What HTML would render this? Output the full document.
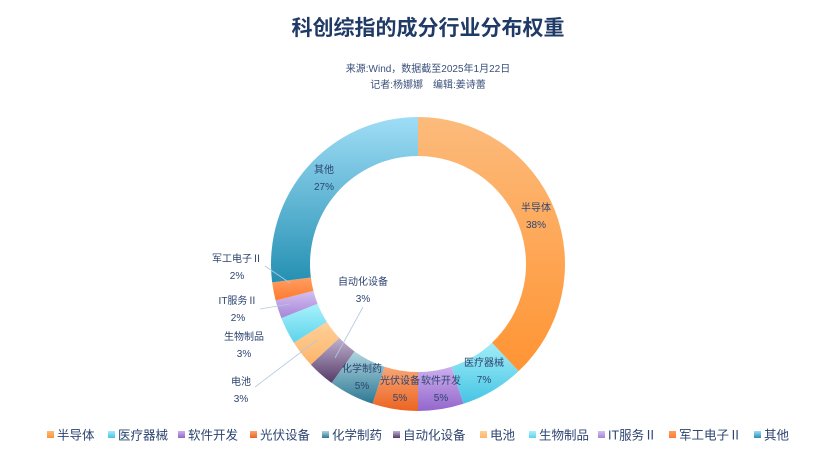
<!DOCTYPE html>
<html><head><meta charset="utf-8"><style>
body{margin:0;background:#fff;}
svg{display:block;font-family:"Liberation Sans","Noto Sans CJK SC",sans-serif;}
</style></head><body>
<svg id="s" width="832" height="464" viewBox="0 0 832 464">
<defs id="d"></defs>
<text x="428" y="35" text-anchor="middle" font-size="21" font-weight="bold" fill="#1F3A66">科创综指的成分行业分布权重</text>
<text x="428" y="72" text-anchor="middle" font-size="10" fill="#3A4F7A">来源:Wind，数据截至2025年1月22日</text>
<text x="428" y="88" text-anchor="middle" font-size="10" fill="#3A4F7A">记者:杨娜娜　编辑:姜诗蕾</text>
<g id="g"></g>
</svg>
<script>
var cx=418,cy=264,R=147,r=108;
var data=[
["半导体",38,"#FCBB7C","#FF9433"],
["医疗器械",7,"#A2EEF8","#45C4E4"],
["软件开发",5,"#CDB0EE","#9366CC"],
["光伏设备",5,"#F8A677","#EC6420"],
["化学制药",5,"#B0D5E0","#2D7893"],
["自动化设备",3,"#C0B2CF","#553A68"],
["电池",3,"#FFD09A","#FDB56A"],
["生物制品",3,"#A8F2FC","#5DD3EA"],
["IT服务Ⅱ",2,"#D4BFF2","#A585D6"],
["军工电子Ⅱ",2,"#FF9E62","#FF7A2E"],
["其他",27,"#9FDDF6","#2590B3"]];
var ns="http://www.w3.org/2000/svg",d=document.getElementById('d'),g=document.getElementById('g');
var a=0;
function pt(rad,ang){return [cx+rad*Math.sin(ang),cy-rad*Math.cos(ang)];}
data.forEach(function(e,i){
 var a0=a/100*2*Math.PI;a+=e[1];var a1=a/100*2*Math.PI;
 var lg=document.createElementNS(ns,'linearGradient');lg.setAttribute('id','g'+i);
 lg.setAttribute('x1','0');lg.setAttribute('y1','0');lg.setAttribute('x2','0');lg.setAttribute('y2','1');
 lg.innerHTML='<stop offset="0" stop-color="'+e[2]+'"/><stop offset="1" stop-color="'+e[3]+'"/>';
 d.appendChild(lg);
 var p1=pt(R,a0),p2=pt(R,a1),p3=pt(r,a1),p4=pt(r,a0),lf=(a1-a0)>Math.PI?1:0;
 var p=document.createElementNS(ns,'path');
 p.setAttribute('d','M'+p1+' A'+R+' '+R+' 0 '+lf+' 1 '+p2+' L'+p3+' A'+r+' '+r+' 0 '+lf+' 0 '+p4+'Z');
 p.setAttribute('fill','url(#g'+i+')');g.appendChild(p);
});
var lines=[[[255,387],[317,340]],[[260,309],[290,304]],[[265,266],[290,283]],[[363,307],[335,358]]];
var h='';
lines.forEach(function(l){h+='<polyline points="'+l.join(' ')+'" fill="none" stroke="#B5C7E0" stroke-width="0.8"/>';});
var labs=[["半导体",536,211],["医疗器械",484,366],["软件开发",441,384],["光伏设备",400,384],["化学制药",362,372],["自动化设备",363,285],["其他",324,173],["军工电子Ⅱ",237,262],["IT服务Ⅱ",238,304],["生物制品",244,340],["电池",241,385]];
var pct=["38%","7%","5%","5%","5%","3%","27%","2%","2%","3%","3%"];
labs.forEach(function(l,i){h+='<text x="'+l[1]+'" y="'+l[2]+'" text-anchor="middle" font-size="10" fill="#2D4470">'+l[0]+'</text><text x="'+l[1]+'" y="'+(l[2]+17)+'" text-anchor="middle" font-size="10" fill="#2D4470">'+pct[i]+'</text>';});
var lx=[47,108,178,250,322,393,480,529,598,669,754];
data.forEach(function(e,i){h+='<rect x="'+lx[i]+'" y="431" width="7" height="7" fill="url(#g'+i+')"/><text x="'+(lx[i]+10)+'" y="439.5" font-size="12.5" fill="#2D4470">'+e[0]+'</text>';});
g.insertAdjacentHTML('beforeend',h);
</script>
</body></html>
